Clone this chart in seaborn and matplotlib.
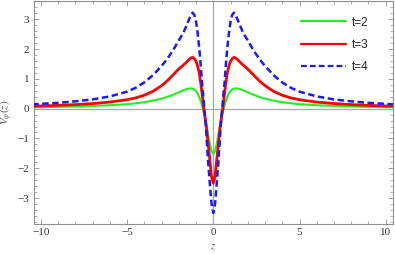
import numpy as np
import pandas as pd
import matplotlib
matplotlib.use("Agg")
import matplotlib.pyplot as plt
from matplotlib.ticker import MultipleLocator
import seaborn as sns

# ---- data (positive half, curves are symmetric in z) ----
z_t2 = [0, 0.1, 0.2, 0.3, 0.4, 0.5, 0.6, 0.7, 0.8, 0.9, 1.0, 1.1, 1.2, 1.3, 1.4, 1.5,
        1.6, 1.7, 1.8, 1.9, 2.0, 2.25, 2.5, 2.75, 3.0, 3.5, 4.0, 4.5, 5.0, 6.0, 7.0,
        8.0, 9.0, 10.0, 10.5]
v_t2 = [-1.52, -1.42, -1.18, -0.86, -0.54, -0.25, 0.0, 0.2, 0.37, 0.5, 0.59, 0.645,
        0.672, 0.68, 0.675, 0.662, 0.645, 0.625, 0.60, 0.575, 0.55, 0.485, 0.43, 0.38,
        0.335, 0.27, 0.215, 0.18, 0.15, 0.115, 0.09, 0.072, 0.06, 0.05, 0.046]

z_t3 = [0, 0.1, 0.19, 0.29, 0.4, 0.5, 0.55, 0.6, 0.7, 0.8, 0.9, 1.0, 1.1, 1.2, 1.3,
        1.4, 1.5, 1.6, 1.7, 1.8, 1.9, 2.0, 2.25, 2.5, 2.75, 3.0, 3.5, 4.0, 4.5, 5.0,
        6.0, 7.0, 8.0, 9.0, 10.0, 10.5]
v_t3 = [-2.50, -2.28, -1.78, -1.22, -0.62, -0.18, 0.0, 0.25, 0.75, 1.15, 1.42, 1.59,
        1.68, 1.72, 1.70, 1.65, 1.59, 1.53, 1.48, 1.43, 1.38, 1.33, 1.18, 1.03, 0.89,
        0.77, 0.58, 0.45, 0.36, 0.30, 0.22, 0.17, 0.135, 0.11, 0.09, 0.085]

z_t4 = [0, 0.1, 0.14, 0.2, 0.3, 0.36, 0.42, 0.47, 0.52, 0.56, 0.6, 0.66, 0.7, 0.8,
        0.9, 1.0, 1.1, 1.2, 1.3, 1.4, 1.5, 1.6, 1.7, 1.8, 1.9, 2.0, 2.25, 2.5, 2.75,
        3.0, 3.5, 4.0, 4.5, 5.0, 6.0, 7.0, 8.0, 9.0, 10.0, 10.5]
v_t4 = [-3.50, -3.20, -2.95, -2.50, -1.78, -1.22, -0.66, -0.30, 0.0, 0.29, 0.55, 0.9,
        1.25, 1.95, 2.5, 2.92, 3.15, 3.22, 3.13, 3.0, 2.86, 2.72, 2.59, 2.48, 2.38,
        2.29, 2.04, 1.81, 1.61, 1.43, 1.12, 0.88, 0.70, 0.57, 0.41, 0.31, 0.245, 0.195,
        0.16, 0.145]

labels = ["t=2", "t=3", "t=4"]
colors = ["#22ee22", "#ff0000", "#1a1aff"]

def mirror(z, v):
    z = np.asarray(z, float); v = np.asarray(v, float)
    return np.concatenate([-z[:0:-1], z]), np.concatenate([v[:0:-1], v])

frames = []
for lab, (z, v) in zip(labels, [(z_t2, v_t2), (z_t3, v_t3), (z_t4, v_t4)]):
    zz, vv = mirror(z, v)
    frames.append(pd.DataFrame({"z": zz, "V": vv, "t": lab}))
df = pd.concat(frames, ignore_index=True)

sns.set_style("ticks")
plt.rcParams["font.family"] = ["Liberation Serif", "DejaVu Serif"]
plt.rcParams["mathtext.fontset"] = "stix"

fig = plt.figure(figsize=(3.95, 2.54), dpi=100)
ax = fig.add_axes([0.085, 0.118, 0.909, 0.878])

ax.axhline(0, color="#a8a8a8", lw=0.9, zorder=1)
ax.axvline(0, color="#a8a8a8", lw=0.9, zorder=1)

widths = {"t=2": 1.5, "t=3": 2.0, "t=4": 1.8}
for lab, col in zip(labels, colors):
    sub = df[df["t"] == lab]
    sns.lineplot(data=sub, x="z", y="V", ax=ax, color=col, lw=widths[lab],
                 label=lab, sort=True, estimator=None, zorder=3)
for line in ax.get_lines():
    if line.get_label() == "t=4":
        line.set_dashes([2.6, 1.4])

ax.set_xlim(-10.42, 10.4)
ax.set_ylim(-3.87, 3.61)
ax.xaxis.set_major_locator(MultipleLocator(5))
ax.xaxis.set_minor_locator(MultipleLocator(1))
ax.yaxis.set_major_locator(MultipleLocator(1))
ax.yaxis.set_minor_locator(MultipleLocator(0.2))
ax.tick_params(which="both", direction="in", top=True, right=True,
               color="#909090", labelsize=8, labelcolor="#333333", pad=3)
ax.tick_params(which="major", length=3.5, width=0.6)
ax.tick_params(which="minor", length=2, width=0.5)
for lbl in ax.get_xticklabels() + ax.get_yticklabels():
    lbl.set_fontfamily(["Liberation Serif", "DejaVu Serif"])
for s in ax.spines.values():
    s.set_color("#909090")
    s.set_linewidth(0.8)

ax.set_xlabel("$z$", fontsize=8, color="#555555", labelpad=4)
ax.set_ylabel(r"$V_{\varphi}(z)$", fontsize=8, color="#555555", labelpad=2)

leg = ax.legend(loc="upper left", bbox_to_anchor=(0.744, 0.93), frameon=False,
                handlelength=3.8, handletextpad=0.5, labelspacing=0.85,
                borderpad=0, borderaxespad=0,
                prop={"family": ["Liberation Sans", "DejaVu Sans"], "size": 8.5})
for h in leg.get_lines():
    h.set_linewidth(1.6)

fig.savefig("out.png", dpi=100)
